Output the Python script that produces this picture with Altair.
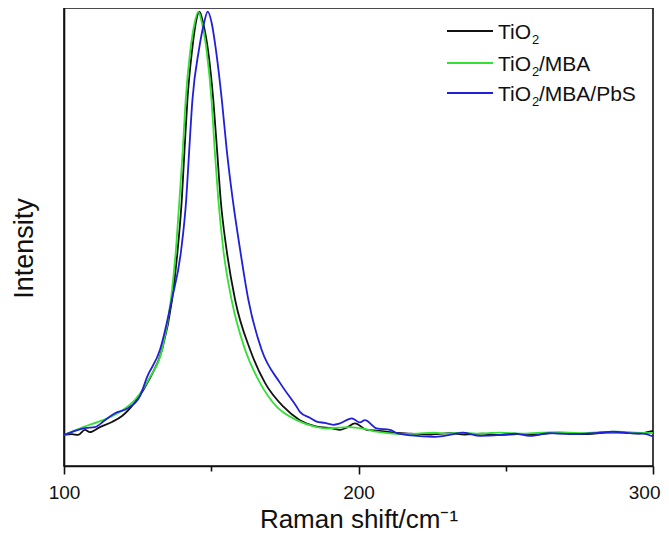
import altair as alt
import pandas as pd

# ---- data (Raman shift in cm-1, normalised intensity) ----
tio2_x = [100.0, 102.7, 104.8, 107.1, 108.8, 112.2, 116.3, 119.7, 124.1, 129.2, 133.3, 136.7,
          138.6, 140.0, 140.9, 141.9, 143.5, 144.7, 146.0, 147.3, 148.9, 150.7, 152.0, 153.2,
          155.2, 158.1, 163.2, 168.3, 174.5, 180.1, 185.8, 191.4, 193.7, 196.0, 198.8, 202.8,
          207.0, 211.8, 218.0, 224.0, 231.1, 236.0, 242.0, 248.0, 254.0, 260.0, 266.0, 272.0,
          278.0, 284.0, 290.0, 295.0, 298.0, 300.0]
tio2_y = [0.067, 0.069, 0.067, 0.078, 0.073, 0.084, 0.095, 0.108, 0.138, 0.190, 0.251, 0.359,
          0.467, 0.575, 0.680, 0.790, 0.898, 0.955, 0.981, 0.955, 0.898, 0.790, 0.680, 0.575,
          0.467, 0.359, 0.251, 0.179, 0.128, 0.099, 0.085, 0.081, 0.078, 0.083, 0.092, 0.078,
          0.076, 0.072, 0.070, 0.068, 0.071, 0.068, 0.070, 0.067, 0.069, 0.068, 0.071, 0.070,
          0.069, 0.072, 0.072, 0.070, 0.073, 0.076]

mba_x = [100.0, 106.5, 113.2, 120.0, 124.1, 129.2, 133.3, 136.3, 138.0, 139.2, 140.3, 141.3,
         142.9, 144.3, 145.6, 146.9, 148.4, 150.1, 151.2, 152.4, 154.1, 156.9, 161.5, 166.6,
         172.2, 179.0, 185.8, 189.2, 193.0, 197.1, 202.0, 206.2, 210.0, 214.1, 220.0, 225.3,
         230.0, 235.0, 240.0, 248.0, 255.0, 262.0, 268.0, 275.0, 282.0, 288.0, 294.0, 300.0]
mba_y = [0.067, 0.084, 0.099, 0.121, 0.143, 0.192, 0.251, 0.359, 0.467, 0.575, 0.680, 0.790,
         0.898, 0.955, 0.981, 0.955, 0.898, 0.790, 0.680, 0.575, 0.467, 0.359, 0.251, 0.179,
         0.128, 0.099, 0.084, 0.081, 0.083, 0.084, 0.080, 0.074, 0.071, 0.069, 0.070, 0.072,
         0.070, 0.072, 0.070, 0.072, 0.070, 0.072, 0.073, 0.071, 0.073, 0.074, 0.072, 0.071]

pbs_x = [100.0, 103.7, 107.1, 110.5, 113.9, 117.3, 121.7, 125.8, 128.2, 132.6, 136.6, 139.8,
         141.5, 142.5, 143.6, 145.8, 147.5, 148.8, 150.2, 151.6, 153.6, 155.3, 157.3, 159.8,
         162.6, 167.1, 173.4, 179.0, 180.1, 183.5, 185.8, 188.5, 191.4, 193.7, 197.7, 200.5,
         202.2, 206.2, 210.7, 213.0, 218.0, 225.4, 230.0, 235.6, 241.3, 248.0, 253.0, 258.2,
         265.0, 272.0, 280.0, 286.5, 292.0, 297.8, 299.6, 300.0]
pbs_y = [0.067, 0.076, 0.082, 0.084, 0.099, 0.114, 0.125, 0.151, 0.192, 0.251, 0.359, 0.467,
         0.575, 0.680, 0.790, 0.898, 0.955, 0.981, 0.955, 0.898, 0.790, 0.680, 0.575, 0.467,
         0.359, 0.251, 0.179, 0.128, 0.117, 0.104, 0.096, 0.093, 0.089, 0.092, 0.103, 0.094,
         0.099, 0.081, 0.078, 0.071, 0.066, 0.063, 0.066, 0.072, 0.065, 0.067, 0.070, 0.065,
         0.071, 0.069, 0.071, 0.074, 0.071, 0.069, 0.065, 0.067]

series_names = ["TiO2", "TiO2/MBA", "TiO2/MBA/PbS"]
legend_tails = ["", "/MBA", "/MBA/PbS"]
series_colors = ["#111111", "#33e033", "#2020d8"]

rows = []
for name, xs, ys in zip(series_names, [tio2_x, mba_x, pbs_x], [tio2_y, mba_y, pbs_y]):
    for a, b in zip(xs, ys):
        rows.append({"shift": a, "intensity": b, "sample": name})
df = pd.DataFrame(rows)
one_row = pd.DataFrame({"k": [0]})

FONT = "Liberation Sans"

lines = alt.Chart(df).mark_line(interpolate="monotone", strokeWidth=1.8).encode(
    x=alt.X("shift:Q",
            scale=alt.Scale(domain=[100, 300], nice=False, zero=False),
            axis=alt.Axis(values=[100, 150, 200, 250, 300],
                          labelExpr="datum.value % 100 === 0 ? datum.label : ''",
                          tickSize={"condition": {"test": "datum.value % 100 !== 0", "value": 5}, "value": 8},
                          labelFlush=False,
                          labelAlign={"condition": {"test": "datum.value === 300", "value": "right"}, "value": "center"},
                          labelOffset={"condition": {"test": "datum.value === 300", "value": 7}, "value": 0},
                          title="Raman shift/cm⁻¹", grid=False,
                          labelFontSize=19, labelPadding=9,
                          titleFontSize=26, titleFontWeight="normal",
                          titleBaseline="alphabetic", titleY=61)),
    y=alt.Y("intensity:Q",
            scale=alt.Scale(domain=[0, 0.989], nice=False, zero=False),
            axis=alt.Axis(labels=False, ticks=False, grid=False, title="Intensity",
                          titleFontSize=27, titleFontWeight="normal", titlePadding=26, titleY=240)),
    color=alt.Color("sample:N",
                    scale=alt.Scale(domain=series_names, range=series_colors),
                    sort=series_names, legend=None),
)

# hand-drawn legend (allows the subscript 2)
layers = [lines]
row_y = [23, 55, 85]
for i, (tail, col) in enumerate(zip(legend_tails, series_colors)):
    y0 = row_y[i]
    layers.append(alt.Chart(one_row).mark_rule(color=col, strokeWidth=1.8).encode(
        x=alt.value(383), x2=alt.value(429), y=alt.value(y0)))
    layers.append(alt.Chart(one_row).mark_text(text="TiO", align="left", baseline="alphabetic",
                                               fontSize=21, font=FONT, color="#111111").encode(
        x=alt.value(434), y=alt.value(y0 + 8)))
    layers.append(alt.Chart(one_row).mark_text(text="2", align="left", baseline="alphabetic",
                                               fontSize=13, font=FONT, color="#111111").encode(
        x=alt.value(468), y=alt.value(y0 + 13)))
    if tail:
        layers.append(alt.Chart(one_row).mark_text(text=tail, align="left", baseline="alphabetic",
                                                   fontSize=21, font=FONT, color="#111111").encode(
            x=alt.value(475), y=alt.value(y0 + 8)))

chart = alt.layer(*layers).properties(
    width=589, height=458,
    padding={"left": 56, "top": 0, "right": 8, "bottom": 68},
    autosize="none",
).configure_view(
    stroke="#111111", strokeWidth=1.6
).configure_axis(
    domainColor="#111111", domainWidth=1.6, tickColor="#111111", tickWidth=1.6,
    labelFont=FONT, titleFont=FONT, labelColor="#111111", titleColor="#111111"
)

chart.save("out.html", embed_options={"renderer": "svg", "actions": False})
